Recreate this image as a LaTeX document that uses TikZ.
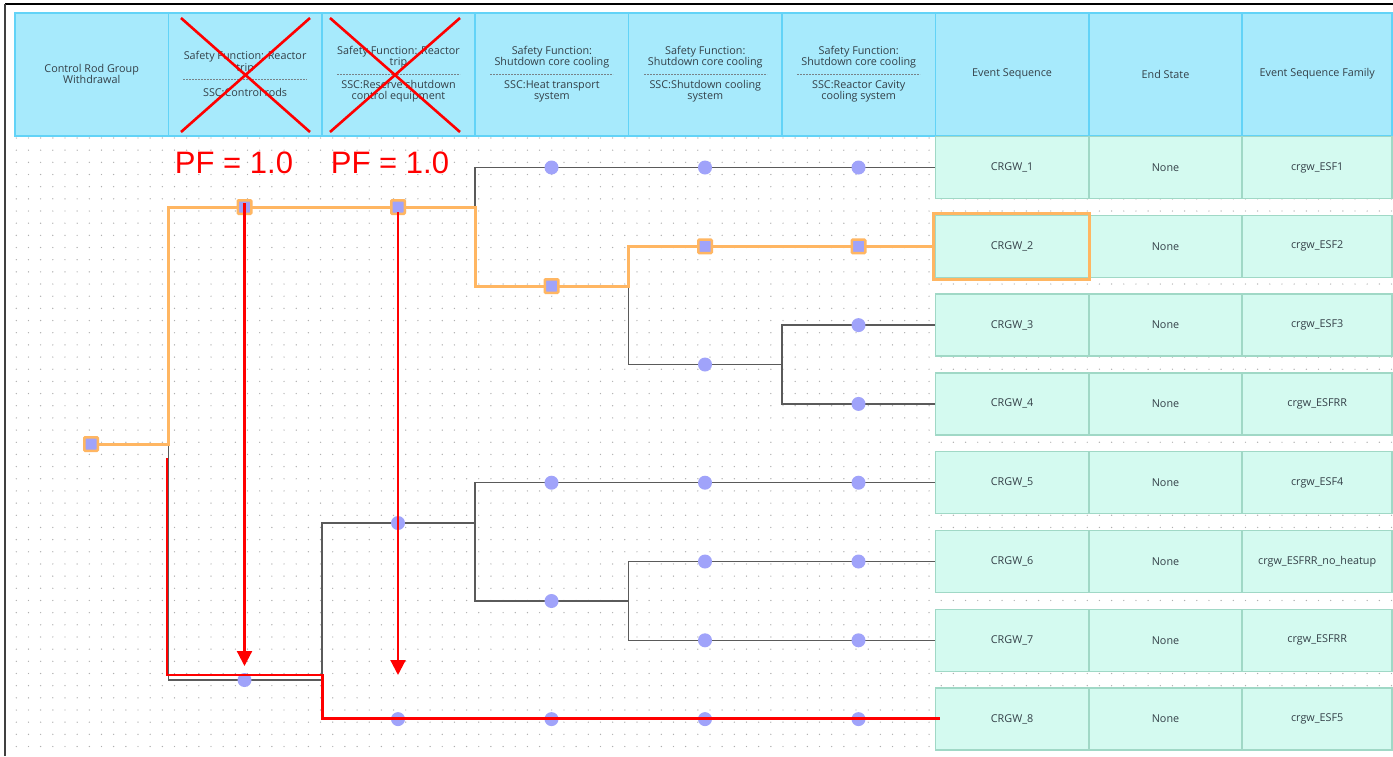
\documentclass[tikz,border=0pt]{standalone}
\usepackage{fontspec}
\setmainfont{Open Sans}
\newfontfamily\pffont{Liberation Sans}
\usetikzlibrary{arrows.meta}
\pgfdeclarelayer{bg}
\pgfdeclarelayer{lines}
\pgfdeclarelayer{fg}
\pgfsetlayers{bg,lines,main,fg}
\definecolor{hdrfill}{RGB}{167,234,252}
\definecolor{hdrline}{RGB}{98,211,247}
\definecolor{cellfill}{RGB}{212,250,240}
\definecolor{cellline}{RGB}{160,216,198}
\definecolor{txt}{RGB}{52,64,72}
\definecolor{nodeblue}{RGB}{160,163,250}
\definecolor{hlorange}{RGB}{255,182,98}
\definecolor{treegray}{RGB}{90,90,90}
\definecolor{dotgray}{RGB}{175,175,175}
\definecolor{sepgray}{RGB}{120,130,135}
\tikzset{
  hdrcell/.style={draw=hdrline, line width=1.5pt, fill=hdrfill, minimum width=153.4pt, minimum height=123pt, inner sep=0pt},
  seqcell/.style={draw=cellline, line width=1.5pt, fill=cellfill, minimum width=153.4pt, minimum height=62pt, inner sep=0pt, text=txt, font=\fontsize{10.8}{12}\selectfont},
  hdrtxt/.style={align=center, text=txt, inner sep=0pt, font=\fontsize{10.8}{11.6}\selectfont},
  sepline/.style={draw=sepgray, line width=0.9pt, dash pattern=on 2.2pt off 0.8pt},
  evnode/.style={circle, fill=nodeblue, minimum size=14pt, inner sep=0pt},
  hlnode/.style={rectangle, rounded corners=1pt, draw=hlorange, line width=2.5pt, fill=nodeblue, minimum size=13.5pt, inner sep=0pt},
  treeline/.style={draw=treegray, line width=1.5pt},
  hlline/.style={draw=hlorange, line width=3pt},
  hlbox/.style={draw=hlorange, line width=3pt},
  redline/.style={draw=red, line width=2.2pt},
  redarrow/.style={draw=red, line width=2.2pt, -{Triangle[length=15pt,width=15pt]}},
  redcross/.style={draw=red, line width=2.6pt},
  pftext/.style={text=red, inner sep=0pt, font=\pffont\fontsize{31}{31}\selectfont},
}
\begin{document}
\begin{tikzpicture}[x=1pt,y=-1pt]
\useasboundingbox (0,0) rectangle (1393,756);
% grid
\begin{pgfonlayer}{bg}
\fill[white] (0,0) rectangle (1393,756);
\foreach \k in {0,...,50}{
  \draw[dotgray, line width=1.4pt, line cap=round, dash pattern=on 0pt off 12.17pt] (16.3,{138+12.17*\k}) -- (1393,{138+12.17*\k});
}
\draw[black, line width=1.8pt] (5,4) -- (1393,4);
\draw[black!75, line width=1.5pt] (5,4) -- (5,756);
\node[hdrcell] (h1) at (91.7,74.5) {};
\node[hdrcell] (h2) at (245.1,74.5) {};
\node[hdrcell] (h3) at (398.5,74.5) {};
\node[hdrcell] (h4) at (551.9,74.5) {};
\node[hdrcell] (h5) at (705.3,74.5) {};
\node[hdrcell] (h6) at (858.7,74.5) {};
\node[hdrcell] (h7) at (1012.1,74.5) {};
\node[hdrcell] (h8) at (1165.5,74.5) {};
\node[hdrcell, minimum width=150pt] (h9) at (1317.2,74.5) {};
\end{pgfonlayer}
\node[hdrtxt] (t1) at (91.7,74) {Control Rod Group\\Withdrawal};
\node[hdrtxt] (t2a) at (245.1,62.8) {Safety Function: Reactor\\trip};
\node[hdrtxt] (t2b) at (245.1,92) {SSC:Control rods};
\node[hdrtxt] (t3a) at (398.5,57.3) {Safety Function: Reactor\\trip};
\node[hdrtxt] (t3b) at (398.5,91.2) {SSC:Reserve shutdown\\control equipment};
\node[hdrtxt] (t4a) at (551.9,57.3) {Safety Function:\\Shutdown core cooling};
\node[hdrtxt] (t4b) at (551.9,91.2) {SSC:Heat transport\\system};
\node[hdrtxt] (t5a) at (705.3,57.3) {Safety Function:\\Shutdown core cooling};
\node[hdrtxt] (t5b) at (705.3,91.2) {SSC:Shutdown cooling\\system};
\node[hdrtxt] (t6a) at (858.7,57.3) {Safety Function:\\Shutdown core cooling};
\node[hdrtxt] (t6b) at (858.7,91.2) {SSC:Reactor Cavity\\cooling system};
\node[hdrtxt] (t7) at (1012.1,74) {Event Sequence};
\node[hdrtxt] (t8) at (1165.5,74) {End State};
\node[hdrtxt] (t9) at (1317.2,74) {Event Sequence Family};
\draw[sepline] (183,79.3) -- (307,79.3);
\draw[sepline] (337,74) -- (460,74);
\draw[sepline] (490,74) -- (613,74);
\draw[sepline] (644,74) -- (767,74);
\draw[sepline] (797,74) -- (920,74);
% table
\foreach \r/\y/\f in {1/167.5/crgw\_ESF1, 2/246.3/crgw\_ESF2, 3/325.1/crgw\_ESF3, 4/403.9/crgw\_ESFRR, 5/482.7/crgw\_ESF4, 6/561.5/crgw\_ESFRR\_no\_heatup, 7/640.3/crgw\_ESFRR, 8/719.1/crgw\_ESF5}{
  \node[seqcell] (s\r) at (1012.1,\y) {CRGW\_\r};
  \node[seqcell] (n\r) at (1165.5,\y) {None};
  \node[seqcell, minimum width=150pt] (f\r) at (1317.2,\y) {\f};
}
% event tree nodes
\node[hlnode] (ie) at (91,444) {};
\node[hlnode] (a1) at (244.5,207) {};
\node[evnode] (a2) at (244.5,680) {};
\node[hlnode] (b1) at (398,207) {};
\node[evnode] (b2) at (398,523) {};
\node[evnode] (b3) at (398,719.1) {};
\node[evnode] (c1) at (551.5,167.5) {};
\node[hlnode] (c2) at (551.5,286) {};
\node[evnode] (c3) at (551.5,482.7) {};
\node[evnode] (c4) at (551.5,601) {};
\node[evnode] (c5) at (551.5,719.1) {};
\node[evnode] (d1) at (705,167.5) {};
\node[hlnode] (d2) at (705,246.3) {};
\node[evnode] (d3) at (705,364.5) {};
\node[evnode] (d4) at (705,482.7) {};
\node[evnode] (d5) at (705,561.5) {};
\node[evnode] (d6) at (705,640.3) {};
\node[evnode] (d7) at (705,719.1) {};
\node[evnode] (e1) at (858.5,167.5) {};
\node[hlnode] (e2) at (858.5,246.3) {};
\node[evnode] (e3) at (858.5,325.1) {};
\node[evnode] (e4) at (858.5,403.9) {};
\node[evnode] (e5) at (858.5,482.7) {};
\node[evnode] (e6) at (858.5,561.5) {};
\node[evnode] (e7) at (858.5,640.3) {};
\node[evnode] (e8) at (858.5,719.1) {};
\coordinate (k1) at (168.4,444);
\coordinate (k2) at (475.2,207);
\coordinate (k3) at (628.6,286);
\coordinate (k4) at (782,364.5);
\coordinate (k5) at (321.8,680);
\coordinate (k6) at (475.2,523);
\coordinate (k7) at (628.6,601);
\begin{pgfonlayer}{lines}
\draw[treeline] (ie.center) -- (k1) |- (a1.center);
\draw[treeline] (k1) |- (a2.center);
\draw[treeline] (a1.center) -- (b1.center) -- (k2) |- (c1.center);
\draw[treeline] (k2) |- (c2.center);
\draw[treeline] (c1.center) -- (d1.center) -- (e1.center) -- (s1.west);
\draw[treeline] (c2.center) -- (k3) |- (d2.center);
\draw[treeline] (k3) |- (d3.center);
\draw[treeline] (d2.center) -- (e2.center) -- (s2.west);
\draw[treeline] (d3.center) -- (k4) |- (e3.center);
\draw[treeline] (k4) |- (e4.center);
\draw[treeline] (e3.center) -- (s3.west);
\draw[treeline] (e4.center) -- (s4.west);
\draw[treeline] (a2.center) -- (k5) |- (b2.center);
\draw[treeline] (k5) |- (b3.center);
\draw[treeline] (b2.center) -- (k6) |- (c3.center);
\draw[treeline] (k6) |- (c4.center);
\draw[treeline] (c3.center) -- (d4.center) -- (e5.center) -- (s5.west);
\draw[treeline] (c4.center) -- (k7) |- (d5.center);
\draw[treeline] (k7) |- (d6.center);
\draw[treeline] (d5.center) -- (e6.center) -- (s6.west);
\draw[treeline] (d6.center) -- (e7.center) -- (s7.west);
\draw[treeline] (b3.center) -- (c5.center) -- (d7.center) -- (e8.center) -- (s8.west);
% highlighted path
\draw[hlline] (ie.center) -- (k1) |- (a1.center) -- (b1.center) -- (k2) |- (c2.center) -- (k3) |- (d2.center) -- (e2.center) -- (s2.west);
\end{pgfonlayer}
\begin{pgfonlayer}{fg}
\draw[hlbox] ([shift={(-1.5pt,-1pt)}]s2.south west) rectangle ([shift={(0pt,1pt)}]s2.north east);
% red overlays
\coordinate (r0) at (167,458);
\coordinate (r2) at (322.5,675);
\coordinate (r4) at (940,718.5);
\draw[redline] (r0) |- (r2) |- (r4);
\coordinate (p1) at (244.5,666);
\coordinate (p2) at (398,675);
\draw[redarrow] ([yshift=4pt]a1.center) -- (p1);
\draw[redarrow] ([yshift=-5pt]b1.center) -- (p2);
\draw[redcross] (181,18) -- (310,132);
\draw[redcross] (310,18) -- (181,132);
\draw[redcross] (330,18) -- (460,132);
\draw[redcross] (460,18) -- (330,132);
\node[pftext, anchor=base] (pf1) at (234,173) {PF = 1.0};
\node[pftext, anchor=base] (pf2) at (390,173) {PF = 1.0};
\end{pgfonlayer}
\end{tikzpicture}
\end{document}
